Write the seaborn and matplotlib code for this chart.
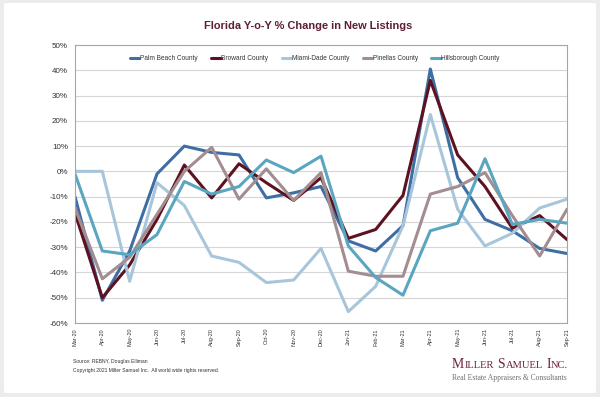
import matplotlib
matplotlib.use("Agg")
import matplotlib.pyplot as plt
import seaborn as sns
import pandas as pd
from matplotlib.lines import Line2D
from matplotlib.patches import FancyBboxPatch

# ---- data ----
months = ['Mar-20', 'Apr-20', 'May-20', 'Jun-20', 'Jul-20', 'Aug-20', 'Sep-20', 'Oct-20',
          'Nov-20', 'Dec-20', 'Jan-21', 'Feb-21', 'Mar-21', 'Apr-21', 'May-21', 'Jun-21',
          'Jul-21', 'Aug-21', 'Sep-21']
palm_beach = [-10, -51, -31.5, -1, 10, 7.5, 6.5, -10.5, -8.5, -6, -27.5, -31.5, -21.5, 40.5, -2.5, -19, -23.5, -30.5, -32.5]
broward = [-16.5, -50, -37, -19, 2.5, -10.5, 3, -4.5, -11.5, -2.5, -26.5, -23, -9.5, 36, 6.5, -6, -22.5, -17.5, -27]
miami_dade = [0, 0, -43.5, -4.5, -13.5, -33.5, -36, -44, -43, -30.5, -55.5, -45.5, -21.5, 22.5, -15, -29.5, -24.5, -14.5, -11]
pinellas = [-14.5, -42.5, -34, -17, 0, 9.5, -11, 1, -11.5, -0.5, -39.5, -41.5, -41.5, -9, -6, -0.5, -17.5, -33.5, -15]
hillsborough = [-1, -31.5, -33, -25, -4, -9, -6, 4.5, -0.5, 6, -29.5, -42, -49, -23.5, -20.5, 5, -21, -19, -20.5]
counties = ['Palm Beach County', 'Broward County', 'Miami-Dade County', 'Pinellas County', 'Hillsborough County']
y_ticks = [50, 40, 30, 20, 10, 0, -10, -20, -30, -40, -50, -60]
title = 'Florida Y-o-Y % Change in New Listings'
source_text = 'Source: REBNY, Douglas Elliman'
copyright_text = 'Copyright 2021 Miller Samuel Inc.  All world wide rights reserved.'
tagline = 'Real Estate Appraisers & Consultants'

series = [palm_beach, broward, miami_dade, pinellas, hillsborough]
colors = ['#3F6EA5', '#5E1221', '#A8C6DB', '#A38D90', '#5AA5C0']
palette = dict(zip(counties, colors))

rows = []
for c, vals in zip(counties, series):
    for m, v in zip(months, vals):
        rows.append({'Month': m, 'Value': v, 'County': c})
df = pd.DataFrame(rows)

sns.set_theme(style='white')
plt.rcParams['font.family'] = ['Liberation Sans', 'DejaVu Sans']

W, H = 600, 397
fig = plt.figure(figsize=(6, 3.97), dpi=100)
fig.patch.set_facecolor('#ECECEC')
panel = FancyBboxPatch((4 / W, 1 - 393 / H), 592 / W, 390 / H,
                       boxstyle='round,pad=0,rounding_size=0.004',
                       transform=fig.transFigure, facecolor='white', edgecolor='none', zorder=-5)
fig.patches.append(panel)

ax = fig.add_axes([75 / W, 1 - 323 / H, (567 - 75) / W, (323 - 45) / H])
ax.set_zorder(2)
ax.set_facecolor('white')

sns.lineplot(data=df, x='Month', y='Value', hue='County', palette=palette,
             hue_order=counties, linewidth=2.2, legend=False, sort=False, ax=ax)

ax.set_xlim(0, len(months) - 1)
ax.set_ylim(-60, 50)
ax.set_xticks(range(len(months)))
ax.set_xticklabels(months, rotation=90, fontsize=4, color='#333333')
ax.set_yticks(y_ticks)
ax.set_yticklabels([f'{v}%' for v in y_ticks], fontsize=5.8, color='#333333')
ax.tick_params(axis='x', length=0, pad=3.6)
ax.tick_params(axis='y', length=0, pad=5)
ax.set_xlabel('')
ax.set_ylabel('')
ax.yaxis.grid(True, color='#D6D6D6', linewidth=0.8)
ax.xaxis.grid(False)
ax.set_axisbelow(True)
for s in ax.spines.values():
    s.set_visible(True)
    s.set_color('#A6A6A6')
    s.set_linewidth(0.8)

handles = [Line2D([0], [0], color=palette[c], lw=2.2) for c in counties]
leg = fig.legend(handles, counties, loc='center', bbox_to_anchor=(315 / W, 1 - 58.7 / H),
                 ncol=5, frameon=False, fontsize=4.7, handlelength=1.4, handletextpad=0.1,
                 columnspacing=2.1, labelcolor='#333333')
leg.set_zorder(5)

fig.text(308 / W, 1 - 26.3 / H, title, ha='center', va='center', fontsize=7.9,
         fontweight='bold', color='#5C1F30')

fig.text(73 / W, 1 - 362 / H, source_text, ha='left', va='center', fontsize=3.6, color='#333333')
fig.text(73 / W, 1 - 370.5 / H, copyright_text, ha='left', va='center', fontsize=3.6, color='#333333')

# logo in faux small caps
renderer = fig.canvas.get_renderer()
logo_pieces = [('M', 9.9), ('ILLER', 7.6), (' ', 0), ('S', 9.9), ('AMUEL', 7.6), (' ', 0), ('I', 9.9), ('NC.', 7.6)]
x_px = 452
base_y = 1 - 368 / H
for txt, size in logo_pieces:
    if txt == ' ':
        x_px += 3.3
        continue
    t = fig.text(x_px / W, base_y, txt, ha='left', va='baseline', fontsize=size,
                 family='Liberation Serif', color='#6E2436')
    bb = t.get_window_extent(renderer=renderer)
    x_px += bb.width + 0.3

fig.text(452 / W, 1 - 379.5 / H, tagline, ha='left', va='baseline', fontsize=5.5,
         family='Liberation Serif', color='#707070')

fig.savefig('out.png', dpi=100, facecolor=fig.get_facecolor())
